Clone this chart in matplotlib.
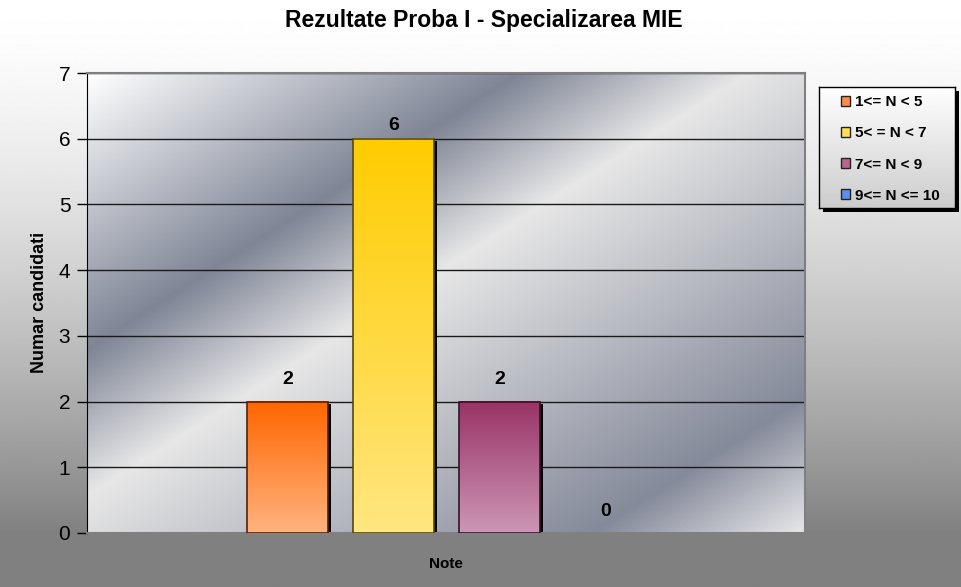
import numpy as np
import matplotlib
matplotlib.use("Agg")
import matplotlib.pyplot as plt
from matplotlib.colors import LinearSegmentedColormap
from matplotlib.patches import Patch, Rectangle
from matplotlib.transforms import ScaledTranslation

plt.rcParams['font.family'] = ['Liberation Sans', 'DejaVu Sans']

# data
categories = ['1<= N < 5', '5< = N < 7', '7<= N < 9', '9<= N <= 10']
counts = [2, 6, 2, 0]
top_colors = ['#ff6600', '#ffcc00', '#993366', '#3366ff']
bottom_colors = ['#ffb37f', '#ffe680', '#cc96b6', '#99b3ff']
edge_colors = ['#5a2000', '#5a4800', '#3a1026', '#102060']
legend_colors = ['#ff8c4a', '#ffdd55', '#b86690', '#5b8ef0']
label_pad = [10, 3.6, 10, 9.4]   # points above the bar, as in the original
yticks = [0, 1, 2, 3, 4, 5, 6, 7]

fig = plt.figure(figsize=(9.62, 5.87), dpi=100)

# figure background: white at the top going to grey
bg = fig.add_axes([0, 0, 1, 1], zorder=-5)
yy = np.linspace(0, 1, 300)[:, None]
s = np.clip(yy * 587 / 535, 0, 1) ** 1.5
v = 1 - (1 - 128 / 255) * s
bg.imshow(np.repeat(v, 2, axis=1), cmap='gray', vmin=0, vmax=1, aspect='auto',
          extent=[0, 1, 0, 1])
bg.set_xlim(0, 1); bg.set_ylim(0, 1)
bg.axis('off')

# plot area
pos = [87 / 962, 1 - 533 / 587, 718 / 962, 460 / 587]
pa = fig.add_axes(pos, zorder=-2)
silver = LinearSegmentedColormap.from_list('silver', [
    (0.0, '#ffffff'), (0.30, '#7f8596'), (0.46, '#e7e7e7'),
    (0.855, '#858a9a'), (1.0, '#e6e6e8')])
X, Y = np.meshgrid(np.linspace(0, 1, 400), np.linspace(0, 1, 300))
pa.imshow((X + Y) / 2, cmap=silver, vmin=0, vmax=1, aspect='auto', extent=[0, 1, 0, 1])
pa.axis('off')

ax = fig.add_axes(pos)
ax.set_facecolor('none')
x = np.arange(len(counts))
w = 0.764

# shadows
shadow = ax.bar(x, counts, w, color='black', zorder=2, linewidth=0)
off = ScaledTranslation(3 / 100, -2 / 100, fig.dpi_scale_trans)
for p in shadow:
    p.set_transform(ax.transData + off)

# gradient bars
for xi, h, c0, c1, ec in zip(x, counts, top_colors, bottom_colors, edge_colors):
    if h == 0:
        continue
    cm = LinearSegmentedColormap.from_list('g', [c0, c1])
    ax.imshow(np.linspace(0, 1, 100)[:, None], cmap=cm, aspect='auto',
              extent=[xi - w / 2, xi + w / 2, 0, h], zorder=3)
    ax.bar(xi, h, w, fill=False, edgecolor=ec, linewidth=1.2, zorder=4)

for xi, h, pad in zip(x, counts, label_pad):
    ax.annotate(str(h), (xi, h), xytext=(0, pad), textcoords='offset points',
                ha='center', va='bottom', fontsize=14, fontweight='bold')

ax.set_xlim(-1.892, 4.882)
ax.set_ylim(0, 7)
ax.set_yticks(yticks)
ax.set_xticks([])
ax.tick_params(axis='y', direction='out', length=7, width=1, labelsize=15, pad=5)
ax.grid(axis='y', color='#1a1a1a', linewidth=1, zorder=1)
ax.set_axisbelow(True)
ax.spines['left'].set_color('black')
for sp in ['top', 'right', 'bottom']:
    ax.spines[sp].set_color('#808080')
    ax.spines[sp].set_linewidth(1.5)

fig.text(484 / 962, 1 - 21 / 587, 'Rezultate Proba I - Specializarea MIE',
         ha='center', va='center', fontsize=16.5, fontweight='bold')
fig.text(446 / 962, 1 - 564 / 587, 'Note', ha='center', va='center',
         fontsize=11, fontweight='bold')
fig.text(39 / 962, 1 - 302 / 587, 'Numar candidati', ha='center', va='center',
         rotation=90, fontsize=13, fontweight='bold')

# legend box with its own gradient and shadow
lpos = [819 / 962, 1 - 208 / 587, 136 / 962, 121 / 587]
fig.patches.append(Rectangle((lpos[0] + 4 / 962, lpos[1] - 4 / 587), lpos[2], lpos[3],
                             transform=fig.transFigure, facecolor='black',
                             edgecolor='none', zorder=-1))
lax = fig.add_axes(lpos, zorder=1)
lg = np.linspace(1.0, 0.8, 100)[:, None]
lax.imshow(np.repeat(lg, 2, axis=1), cmap='gray', vmin=0, vmax=1, aspect='auto',
           extent=[0, 1, 0, 1])
lax.set_xticks([]); lax.set_yticks([])
for sp in lax.spines.values():
    sp.set_color('black')
    sp.set_linewidth(1)
handles = [Patch(facecolor=c, edgecolor='#222222', linewidth=1) for c in legend_colors]
lax.legend(handles, categories, loc='center left', bbox_to_anchor=(0.16, 0.488),
           frameon=False, prop={'weight': 'bold', 'size': 11},
           handlelength=0.6, handleheight=0.6, handletextpad=0.3,
           labelspacing=1.12, borderpad=0, borderaxespad=0)

fig.savefig('out.png', dpi=100)
